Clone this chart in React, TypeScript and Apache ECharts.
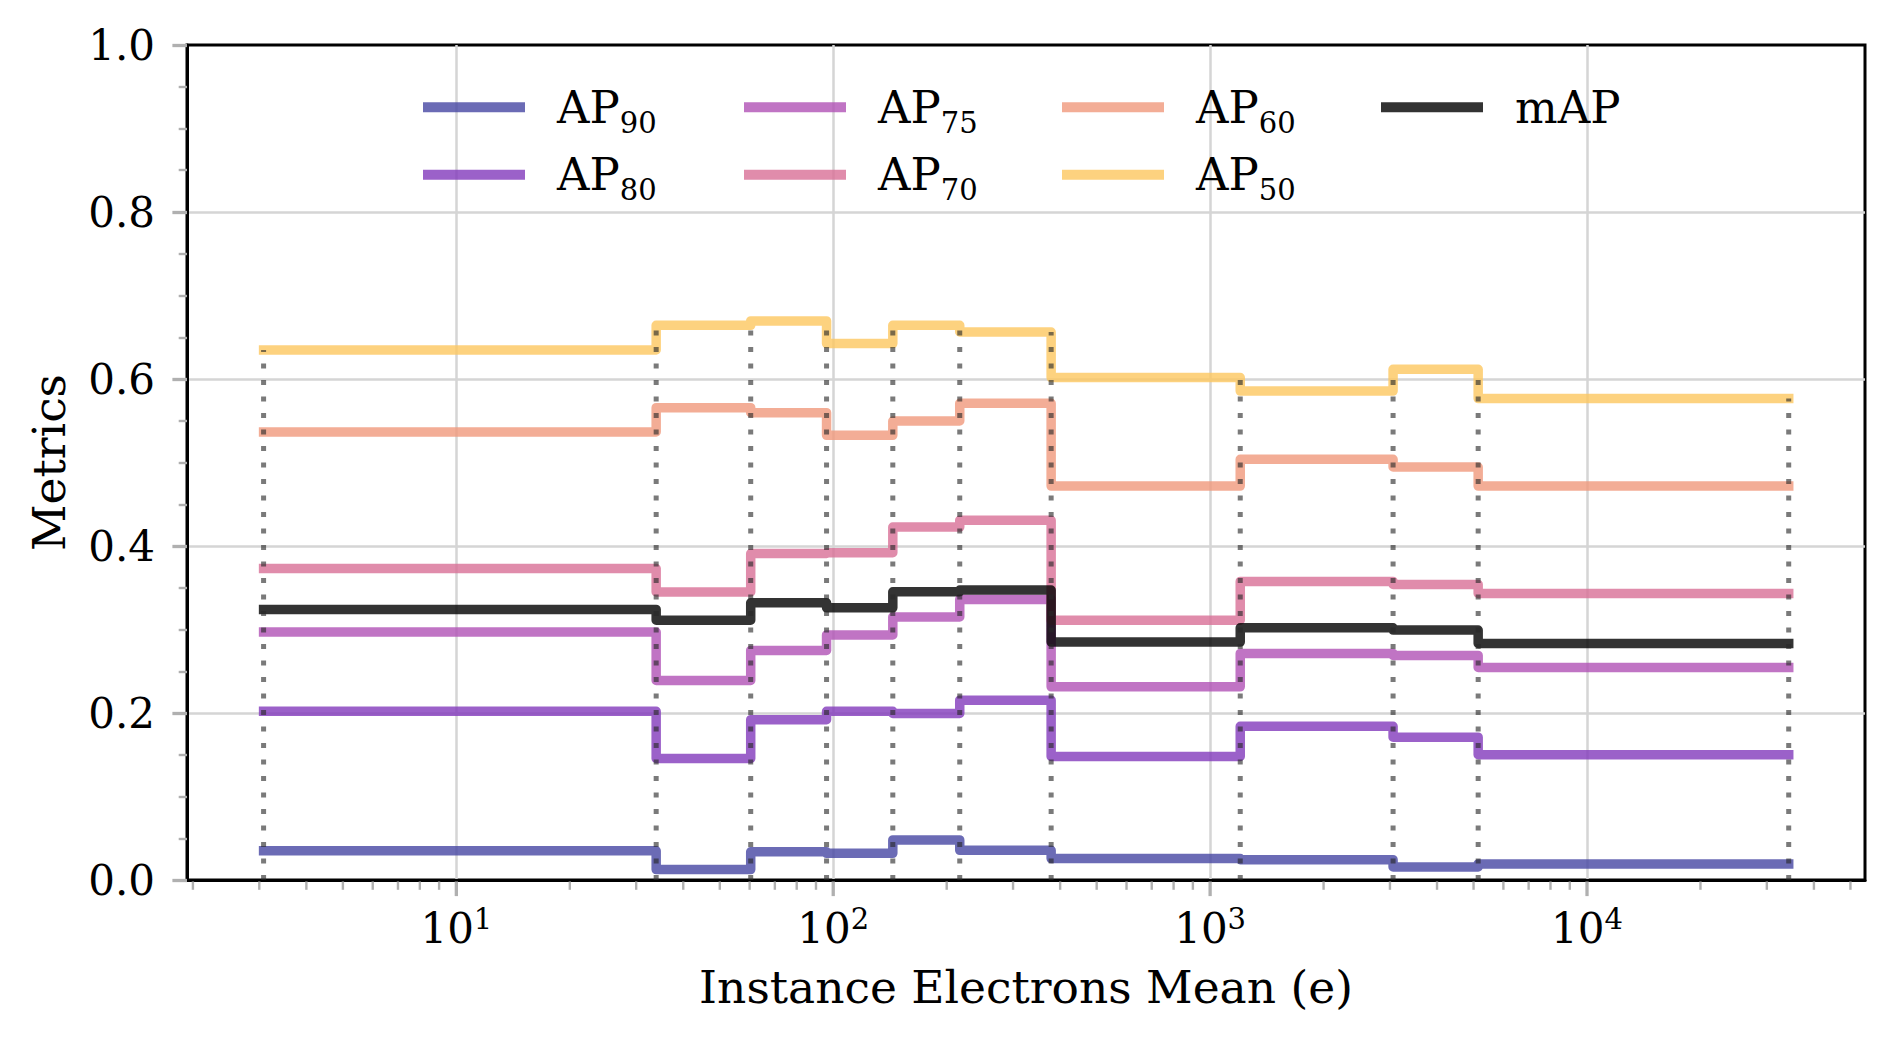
import React, { useEffect, useRef } from "react";
import * as echarts from "echarts";

const FONT = "DejaVu Serif";

// Bin edges along the instance electron mean (e)
const BIN_EDGES = [3.08, 33.9, 60.4, 96.0, 143.9, 216.6, 378.6, 1202, 3058, 5143, 34290];

// Per-bin metric values (one value per bin between consecutive edges)
const AP90 = [0.035, 0.0125, 0.0337, 0.032, 0.048, 0.0356, 0.0256, 0.0244, 0.0157, 0.0193];
const AP80 = [0.202, 0.1455, 0.192, 0.202, 0.1994, 0.2154, 0.148, 0.184, 0.171, 0.15];
const AP75 = [0.297, 0.239, 0.275, 0.2935, 0.315, 0.336, 0.2314, 0.2713, 0.2689, 0.2545];
const AP70 = [0.373, 0.345, 0.391, 0.392, 0.4227, 0.4307, 0.3112, 0.3576, 0.354, 0.3432];
const AP60 = [0.5366, 0.5657, 0.5597, 0.5325, 0.5497, 0.5709, 0.4718, 0.5038, 0.4946, 0.4718];
const AP50 = [0.6348, 0.6643, 0.6695, 0.6424, 0.6643, 0.6563, 0.6017, 0.5856, 0.6116, 0.5765];
const MAP = [0.324, 0.3112, 0.332, 0.326, 0.3452, 0.3472, 0.2849, 0.3021, 0.2993, 0.2833];

const SERIES_NAMES = ["AP90", "AP80", "AP75", "AP70", "AP60", "AP50", "mAP"];
const SERIES_VALUES = [AP90, AP80, AP75, AP70, AP60, AP50, MAP];
const SERIES_COLORS = [
  "rgb(70,70,163)",
  "rgb(130,58,188)",
  "rgb(176,81,181)",
  "rgb(216,111,150)",
  "rgb(240,153,124)",
  "rgb(252,199,95)",
  "rgb(0,0,0)",
];

// Axis ranges and tick positions
const X_MIN = 1.929;
const X_MAX = 54650;
const Y_MIN = 0;
const Y_MAX = 1;
const Y_INTERVAL = 0.2;
const X_MAJOR_TICKS = [10, 100, 1000, 10000];
const X_DECADES = [1, 10, 100, 1000, 10000];
const X_MINOR_MULTIPLES = [2, 3, 4, 5, 6, 7, 8, 9];

// Legend columns (filled top to bottom)
const LEGEND_COLUMNS = [["AP90", "AP80"], ["AP75", "AP70"], ["AP60", "AP50"], ["mAP"]];
const LEGEND_COL_LEFT = [423, 744, 1062, 1381];
const LEGEND_ROW_CENTER = [110.7, 178.3];
const LEGEND_TEXT_LINE = 52;

function stepData(values: number[]) {
  const pts = values.map((v, i) => [BIN_EDGES[i], v]);
  pts.push([BIN_EDGES[BIN_EDGES.length - 1], values[values.length - 1]]);
  return pts;
}

function buildOption() {
  const gridLine = { color: "#d5d5d5", width: 2.5 };
  const tickGray = "#b0b0b0";

  const xTickData: number[][] = [];
  X_MAJOR_TICKS.forEach((v) => xTickData.push([v, 0, 1]));
  X_DECADES.forEach((d) =>
    X_MINOR_MULTIPLES.forEach((m) => {
      const v = d * m;
      if (v >= X_MIN && v <= X_MAX) xTickData.push([v, 0, 0]);
    })
  );

  // dotted bin separators reach up to the highest curve at each edge
  const edgeTops = BIN_EDGES.map((e, i) => {
    const left = i > 0 ? AP50[i - 1] : -Infinity;
    const right = i < AP50.length ? AP50[i] : -Infinity;
    return [e, Math.max(left, right)];
  });

  const lineSeries = SERIES_NAMES.map((name, k) => ({
    name,
    type: "line",
    step: "end",
    data: stepData(SERIES_VALUES[k]),
    symbol: "none",
    showSymbol: false,
    color: SERIES_COLORS[k],
    itemStyle: { color: SERIES_COLORS[k] },
    lineStyle: {
      color: SERIES_COLORS[k],
      width: 9.5,
      opacity: 0.8,
      cap: "square",
      join: "round",
    },
    emphasis: { disabled: true },
    z: 3,
  }));

  const legendText = {
    fontFamily: FONT,
    color: "#000",
    fontSize: 45,
    rich: {
      a: {
        fontFamily: FONT,
        color: "#000",
        fontSize: 45,
        lineHeight: LEGEND_TEXT_LINE,
        padding: [0, 0, 0, 27],
      },
      sub: {
        fontFamily: FONT,
        color: "#000",
        fontSize: 29,
        verticalAlign: "bottom",
        padding: [0, 0, -4, 0],
      },
    },
  };

  const legends: any[] = [];
  LEGEND_COLUMNS.forEach((col, c) =>
    col.forEach((name, r) =>
      legends.push({
        show: true,
        left: LEGEND_COL_LEFT[c],
        top: LEGEND_ROW_CENTER[r] - LEGEND_TEXT_LINE / 2,
        padding: 0,
        orient: "horizontal",
        itemWidth: 102,
        itemHeight: 10,
        icon: "rect",
        selectedMode: false,
        data: [name],
        itemStyle: { opacity: 0.8, borderWidth: 0 },
        formatter: (n: string) => (n === "mAP" ? "{a|mAP}" : `{a|AP}{sub|${n.slice(2)}}`),
        textStyle: legendText,
      })
    )
  );

  return {
    animation: false,
    backgroundColor: "#fff",
    textStyle: { fontFamily: FONT },
    legend: legends,
    grid: {
      left: 187,
      right: 28,
      top: 45,
      bottom: 163,
      show: true,
      borderColor: "#000",
      borderWidth: 3,
      backgroundColor: "transparent",
      outerBoundsMode: "none",
    },
    xAxis: {
      type: "log",
      logBase: 10,
      min: X_MIN,
      max: X_MAX,
      name: "Instance Electrons Mean (e)",
      nameLocation: "middle",
      nameGap: 84,
      nameTextStyle: { fontFamily: FONT, fontSize: 45.5, color: "#000" },
      axisLine: { show: true, lineStyle: { color: "#000", width: 3 } },
      axisTick: { show: false },
      minorTick: { show: false },
      splitLine: { show: true, showMinLine: false, showMaxLine: false, lineStyle: gridLine },
      axisLabel: {
        margin: 24,
        showMinLabel: false,
        showMaxLabel: false,
        formatter: (v: number) => {
          const lg = Math.log10(v);
          const e = Math.round(lg);
          if (Math.abs(lg - e) > 1e-6) return "";
          return `{b|10}{sup|${e}}`;
        },
        rich: {
          b: { fontFamily: FONT, fontSize: 42, color: "#000", lineHeight: 48 },
          sup: { fontFamily: FONT, fontSize: 29, color: "#000", verticalAlign: "top" },
        },
      },
    },
    yAxis: {
      type: "value",
      min: Y_MIN,
      max: Y_MAX,
      interval: Y_INTERVAL,
      name: "Metrics",
      nameLocation: "middle",
      nameGap: 115,
      nameTextStyle: { fontFamily: FONT, fontSize: 45.5, color: "#000" },
      axisLine: { show: true, lineStyle: { color: "#000", width: 3 } },
      axisTick: { show: true, length: 14.6, lineStyle: { color: tickGray, width: 3.3 } },
      minorTick: { show: true, splitNumber: 4, length: 8.3, lineStyle: { color: tickGray, width: 2.4 } },
      splitLine: { show: true, showMinLine: false, showMaxLine: false, lineStyle: gridLine },
      axisLabel: {
        margin: 32,
        fontFamily: FONT,
        fontSize: 42,
        color: "#000",
        formatter: (v: number) => v.toFixed(1),
      },
    },
    series: [
      ...lineSeries,
      {
        name: "bin-edges",
        type: "custom",
        data: edgeTops,
        clip: false,
        silent: true,
        z: 5,
        encode: { x: 0, y: 1 },
        renderItem: (_p: any, api: any) => {
          const x = api.value(0);
          const a = api.coord([x, 0]);
          const b = api.coord([x, api.value(1)]);
          return {
            type: "line",
            shape: { x1: a[0], y1: a[1], x2: b[0], y2: b[1] },
            style: { stroke: "rgba(40,40,40,0.62)", lineWidth: 5, lineDash: [5, 11.5] },
          };
        },
      },
      {
        name: "x-ticks",
        type: "custom",
        data: xTickData,
        clip: false,
        silent: true,
        z: 4,
        encode: { x: 0, y: 1 },
        renderItem: (_p: any, api: any) => {
          const major = api.value(2) === 1;
          const p = api.coord([api.value(0), 0]);
          return {
            type: "line",
            shape: { x1: p[0], y1: p[1] + 1.5, x2: p[0], y2: p[1] + 1.5 + (major ? 14.6 : 8.3) },
            style: { stroke: tickGray, lineWidth: major ? 3.3 : 2.4 },
          };
        },
      },
    ],
  };
}

export default function App() {
  const ref = useRef<HTMLDivElement>(null);
  useEffect(() => {
    if (!ref.current) return;
    const chart = echarts.init(ref.current, undefined, { renderer: "svg" });
    chart.setOption(buildOption() as any);
    return () => chart.dispose();
  }, []);
  return (
    <div
      ref={ref}
      style={{ position: "absolute", left: 0, top: 0, width: 1893, height: 1043, background: "#fff" }}
    />
  );
}
